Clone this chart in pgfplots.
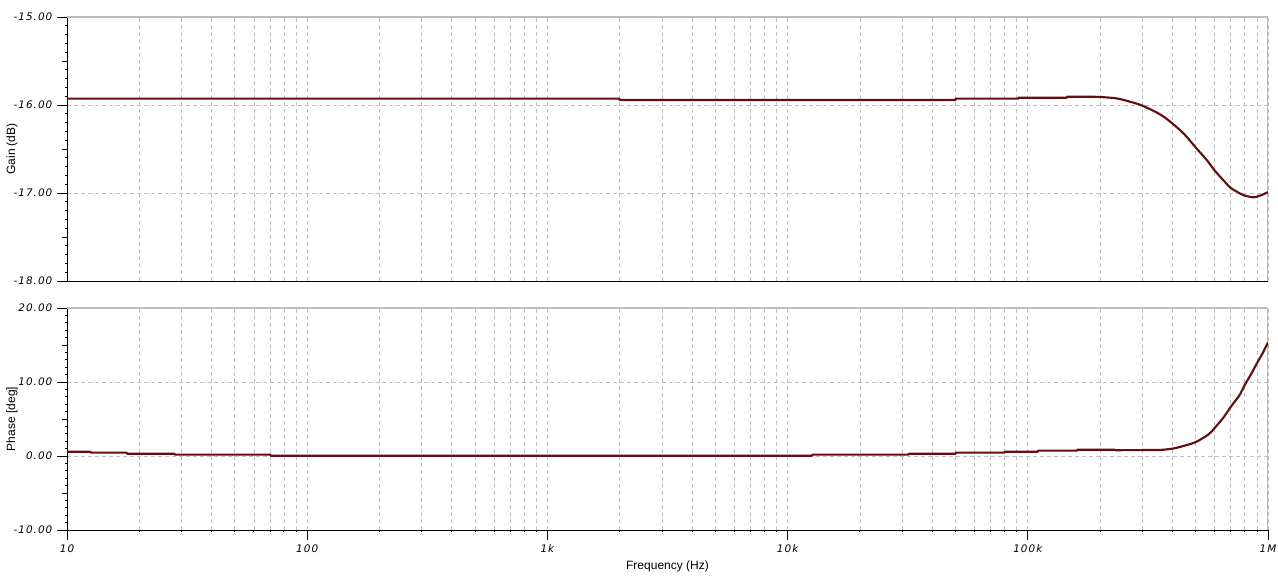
\documentclass[border=0pt]{standalone}
\usepackage{fontspec}
\setmainfont{Liberation Sans}
\newfontfamily\tickfont[LetterSpace=10.0]{DejaVu Sans}
\usepackage{pgfplots}
\pgfplotsset{compat=1.18}
\definecolor{curve}{RGB}{100,14,14}
\definecolor{gridc}{RGB}{192,192,192}
\definecolor{framec}{RGB}{190,190,190}
\begin{document}
\begin{tikzpicture}
\path[use as bounding box] (-50.25pt,-40.5pt) rectangle (908.25pt,397.5pt);
% Gain
\begin{axis}[
  scale only axis,
  width=900.75pt,
  height=198pt,
  at={(0pt,186.75pt)}, anchor=south west,
  xmode=log,
  xmin=10, xmax=1000000,
  ymin=-18, ymax=-15,
  axis lines*=left,
  axis line style={-,black},
  tick align=outside,
  major tick length=7.5pt,
  minor tick length=1.6pt,
  xmajorgrids, xminorgrids, ymajorgrids,
  major grid style={gridc, dash pattern=on 3pt off 2.25pt, line width=0.6pt},
  minor grid style={gridc, dash pattern=on 3pt off 2.25pt, line width=0.6pt},
  tick style={black, line width=0.7pt},
  minor y tick num=9,
  tick label style={font=\tickfont\itshape\fontsize{7.8}{9}\selectfont},
  ylabel style={at={(axis description cs:0,0.5)}, anchor=center, yshift=41.25pt, font=\fontsize{9}{11}\selectfont},
  ytick={-18,-17,-16,-15},
  yticklabels={-18.00,-17.00,-16.00,-15.00},
  extra y ticks={-17.5,-16.5,-15.5},
  extra y tick labels={},
  extra y tick style={major tick length=3.75pt, grid=none},
  xtick={10,100,1000,10000,100000,1000000},
  xticklabels={},
  every major x tick/.append style={draw=none},
  every minor x tick/.append style={draw=none},
  ylabel={Gain (dB)},
]
\draw[framec, line width=0.8pt] (rel axis cs:0,1) -- (rel axis cs:1,1) -- (rel axis cs:1,0);
\addplot[curve, line width=1.6pt, line join=round] coordinates {
(10,-15.928) (1990,-15.928) (2000,-15.943) (50000,-15.943) (50100,-15.928)
(91000,-15.928) (91500,-15.917) (145000,-15.917) (146000,-15.906) (180000,-15.906)
};
\addplot[curve, line width=1.6pt, line join=round, smooth, tension=0.5] coordinates {
(180000,-15.906) (200000,-15.909) (234000,-15.925) (266000,-15.962) (300000,-16.008)
(355000,-16.106) (400000,-16.21) (451000,-16.34) (500000,-16.483) (556000,-16.625)
(600000,-16.745) (662000,-16.875) (700000,-16.943) (764000,-17.005) (800000,-17.03)
(868000,-17.049) (900000,-17.042) (956000,-17.015) (1000000,-16.99)
};
\end{axis}
% Phase
\begin{axis}[
  scale only axis,
  width=900.75pt,
  height=166.5pt,
  at={(0pt,0pt)}, anchor=south west,
  xmode=log,
  xmin=10, xmax=1000000,
  ymin=-10, ymax=20,
  axis lines*=left,
  axis line style={-,black},
  tick align=outside,
  major tick length=7.5pt,
  minor tick length=1.6pt,
  xmajorgrids, xminorgrids, ymajorgrids,
  major grid style={gridc, dash pattern=on 3pt off 2.25pt, line width=0.6pt},
  minor grid style={gridc, dash pattern=on 3pt off 2.25pt, line width=0.6pt},
  tick style={black, line width=0.7pt},
  minor y tick num=9,
  tick label style={font=\tickfont\itshape\fontsize{7.8}{9}\selectfont},
  ylabel style={at={(axis description cs:0,0.5)}, anchor=center, yshift=41.25pt, font=\fontsize{9}{11}\selectfont},
  xlabel style={at={(axis description cs:0.5,0)}, anchor=center, yshift=-27pt, font=\fontsize{9}{11}\selectfont},
  ytick={-10,0,10,20},
  yticklabels={-10.00,0.00,10.00,20.00},
  extra y ticks={-5,5,15},
  extra y tick labels={},
  extra y tick style={major tick length=3.75pt, grid=none},
  xtick={10,100,1000,10000,100000,1000000},
  xticklabels={10,100,1k,10k,100k,1M},
  ylabel={Phase [deg]},
  xlabel={Frequency (Hz)},
]
\draw[framec, line width=0.8pt] (rel axis cs:0,1) -- (rel axis cs:1,1) -- (rel axis cs:1,0);
\addplot[curve, line width=1.6pt, line join=round] coordinates {
(10,0.58) (12.5,0.58) (12.6,0.45) (17.7,0.45) (17.8,0.31) (28,0.31) (28.1,0.18)
(70,0.18) (70.5,0.04) (12600,0.04) (12700,0.18) (31800,0.18) (32000,0.31)
(50000,0.31) (50200,0.45) (80000,0.45) (80300,0.58) (110000,0.58) (110500,0.72)
(160000,0.72) (161000,0.85) (230000,0.85) (231000,0.78) (293000,0.8) (355000,0.81)
};
\addplot[curve, line width=1.6pt, line join=round, smooth, tension=0.5] coordinates {
(355000,0.81) (400000,0.99) (444000,1.35) (500000,1.88) (565000,2.91) (600000,3.8)
(651000,5.16) (700000,6.64) (764000,8.3) (800000,9.6) (855000,11.2) (900000,12.56)
(950000,13.9) (1000000,15.34)
};
\end{axis}
\end{tikzpicture}
\end{document}
